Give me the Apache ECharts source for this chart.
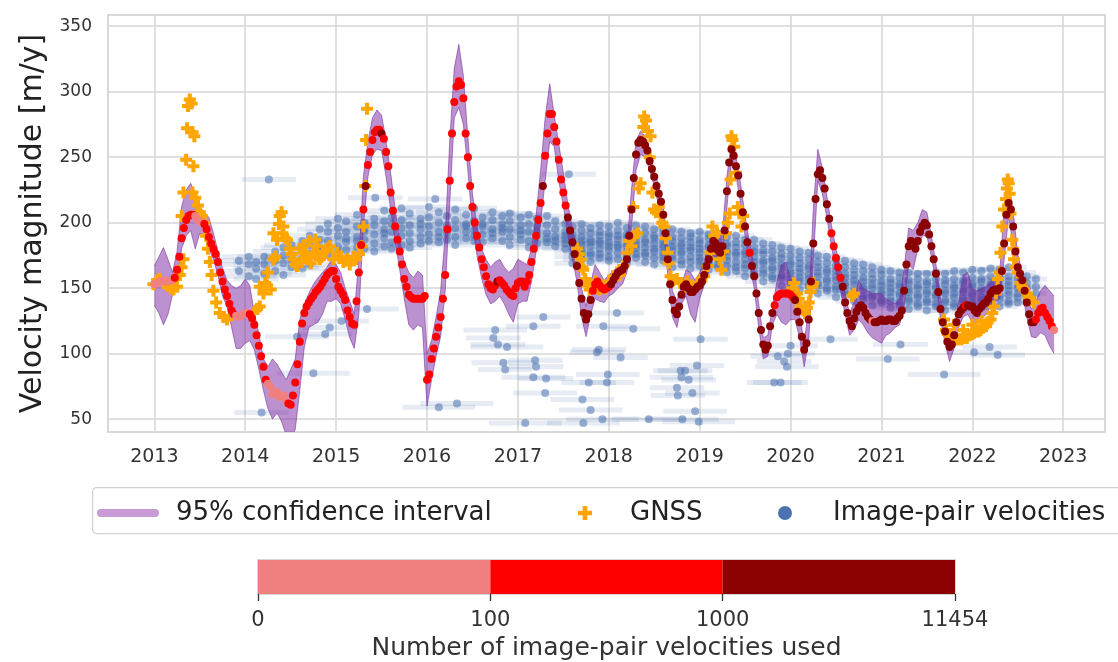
<!DOCTYPE html>
<html>
<head>
<meta charset="utf-8">
<title>Velocity magnitude</title>
<script src="https://cdn.jsdelivr.net/npm/echarts@6/dist/echarts.min.js"></script>
<style>
  html, body { margin: 0; padding: 0; background: #fff; }
  #chart { width: 1118px; height: 662px; }
</style>
</head>
<body>
<div id="chart"></div>
<script>
// tick labels
const yearTicks = [2013, 2014, 2015, 2016, 2017, 2018, 2019, 2020, 2021, 2022, 2023];
const velocityTicks = [50, 100, 150, 200, 250, 300, 350];
const countLabels = ['0', '100', '1000', '11454'];
const countColors = ['#F08080', '#FF0000', '#8B0000'];

// estimated velocity, one value every curveStep years from curveStart
const curveStart = 2013;
const curveStep = 0.025;
const curveValues = [
  153,154,155,155,155,155,155,156,156,158, 164,174,188,196,202,205,206,206,205,202, 201,200,199,195,189,184,180,176,170,162, 155,149,144,138,133,130,129,128,129,130,
  131,131,130,127,122,114,106,98,90,80, 77,75,69,70,71,67,68,68,64,62, 61,68,78,92,109,123,131,136,139,142, 144,147,149,151,154,157,160,162,163,163,
  157,151,148,145,141,133,128,123,122,140, 162,183,210,228,244,254,263,269,271,271, 268,264,254,243,223,209,197,187,178,168, 157,151,145,143,142,142,142,142,142,144,
  80,84,96,104,113,120,128,142,160,195, 232,268,292,304,308,305,295,268,250,228, 212,200,190,181,172,166,159,153,150,149, 152,155,156,154,152,149,147,145,144,150,
  154,155,155,151,155,160,170,180,190,202, 215,228,251,268,283,283,273,262,248,233, 223,213,204,194,185,176,167,154,142,131, 126,130,141,148,153,155,152,150,149,150,
  151,153,156,159,162,163,164,167,172,190, 210,234,252,261,263,262,259,255,247,241, 235,228,222,216,206,192,172,153,141,133, 130,136,145,151,153,150,147,147,149,151,
  152,155,160,167,172,180,186,184,179,177, 182,194,224,246,256,251,243,236,222,208, 197,185,177,167,159,146,131,118,107,103, 106,121,131,137,143,145,146,146,146,146,
  145,143,141,132,124,113,103,108,126,155, 184,218,237,240,234,226,214,203,192,182, 173,166,158,151,139,131,125,121,127,132, 135,137,135,131,128,126,125,124,124,125,
  126,125,125,126,126,125,125,127,129,133, 148,168,182,186,183,180,186,193,197,200, 198,191,182,172,161,147,134,124,117,109, 105,107,114,124,130,133,135,137,137,136,
  136,133,131,134,136,138,139,142,146,148, 149,148,150,163,184,206,215,210,197,178, 166,161,156,148,139,130,124,124,126,131, 134,135,131,128,125,121,118
];

// class of the number of image-pair velocities used (0: <100, 1: 100-1000, 2: >1000), from each start year
const classStart = [2013.0, 2013.225, 2013.45, 2013.55, 2013.9, 2014.05, 2014.25, 2014.475, 2015.325, 2015.35, 2015.5, 2015.525,
  2016.775, 2016.8, 2017.275, 2017.3, 2017.55, 2017.825, 2018.025, 2019.55, 2019.575, 2019.825, 2020.05, 2020.45, 2020.575,
  2020.9, 2020.925, 2021.925, 2021.95, 2022.7, 2022.9];
const classIndex = [0, 1, 0, 1, 0, 1, 0, 1, 2, 1, 2, 1, 2, 1, 2, 1, 2, 1, 2, 1, 2, 1, 2, 1, 2, 0, 2, 1, 2, 1, 0];

// 95% confidence interval, one value every bandStep years from bandStart
const bandStart = 2013;
const bandStep = 0.05;
const bandUpper = [
  167,174,181,172,162,178,212,225,230,222, 212,208,204,192,178,165,156,152,150,152,
  157,152,131,115,96,90,96,92,86,80, 88,96,126,138,146,153,158,162,166,172,
  168,162,150,140,130,172,235,262,280,286, 282,262,238,210,186,170,162,158,163,160,
  100,110,128,148,190,262,318,336,312,265, 222,198,180,172,166,170,172,166,162,165,
  172,170,168,180,205,240,280,306,282,260, 238,214,196,178,150,136,154,168,162,156,
  160,163,166,168,182,225,262,270,266,254, 240,228,212,182,148,140,152,164,162,156,
  162,170,182,192,190,192,235,262,250,230, 205,184,166,138,112,114,135,155,168,170,
  158,148,130,108,135,210,256,242,220,198, 180,165,146,130,140,156,150,148,146,146,
  146,142,140,138,142,165,196,194,200,210, 208,190,168,142,124,112,120,140,160,162,
  150,148,150,151,155,158,160,210,228,208, 176,162,145,134,140,148,152,148,144
];
const bandLower = [
  137,131,122,130,145,158,180,190,194,180, 192,190,180,172,160,144,136,120,104,104,
  108,110,103,88,72,58,50,55,48,38, 35,42,72,105,120,122,124,130,140,140,
  142,138,126,112,104,130,197,235,252,256, 255,235,210,185,164,142,122,118,122,120,
  60,80,98,113,148,215,280,288,275,240, 198,175,158,145,138,140,144,138,130,124,
  138,140,140,155,178,200,232,262,258,232, 213,190,172,155,128,113,130,142,140,139,
  144,146,150,153,162,196,240,252,250,240, 228,213,196,160,128,120,138,144,130,124,
  142,152,162,175,170,172,212,246,236,215, 190,168,150,120,96,98,122,130,124,122,
  126,126,112,90,110,170,232,222,204,182, 163,148,130,114,118,126,122,116,112,110,
  108,114,116,120,122,136,168,164,180,190, 190,174,155,126,108,94,104,120,128,130,
  124,122,126,130,136,140,142,172,205,182, 152,146,128,113,112,116,114,106,100
];

// GNSS velocities [year, m/y]
const gnss = [
  [2012.99,153],[2013.03,156],[2013.06,157],[2013.10,154],[2013.14,152],[2013.18,150],[2013.21,149],[2013.25,151],[2013.28,160],[2013.30,166],[2013.32,172],
  [2013.30,205],[2013.32,223],[2013.35,248],[2013.36,272],[2013.37,289],[2013.39,294],[2013.41,291],[2013.42,269],[2013.44,266],[2013.43,243],[2013.42,223],
  [2013.45,219],[2013.48,213],[2013.50,208],[2013.52,205],[2013.55,200],[2013.57,190],[2013.59,180],[2013.61,170],[2013.63,160],[2013.65,148],[2013.68,139],
  [2013.72,131],[2013.76,128],[2013.80,126],[2014.09,131],[2014.13,134],[2014.16,136],
  [2014.16,151],[2014.20,146],[2014.22,154],[2014.24,152],[2014.25,162],[2014.28,149],[2014.31,172],[2014.31,192],[2014.33,174],[2014.35,187],[2014.37,199],
  [2014.38,205],[2014.40,208],[2014.41,192],[2014.42,197],[2014.44,188],[2014.46,187],[2014.49,180],[2014.51,176],[2014.53,172],[2014.55,168],[2014.57,167],
  [2014.60,180],[2014.62,170],[2014.64,182],[2014.66,176],[2014.68,174],[2014.70,186],[2014.72,169],[2014.75,177],[2014.77,187],[2014.79,182],[2014.82,172],
  [2014.84,174],[2014.87,178],[2014.90,180],[2014.93,182],[2014.97,172],[2015.01,177],[2015.05,174],[2015.08,170],[2015.12,172],[2015.15,168],[2015.19,174],
  [2015.22,172],[2015.25,176],[2015.28,182],[2015.30,197],[2015.32,228],[2015.33,263],[2015.34,287],
  [2017.65,180],[2017.67,176],[2017.69,172],[2017.71,166],[2017.72,164],[2017.74,157],[2017.77,152],[2017.79,149],[2017.82,152],[2017.85,155],[2017.87,150],
  [2017.90,149],[2017.93,152],[2017.97,150],[2018.01,155],[2018.05,159],[2018.09,162],[2018.12,160],[2018.16,167],[2018.20,177],[2018.22,186],[2018.25,182],
  [2018.28,190],[2018.31,192],[2018.27,212],[2018.33,226],[2018.35,230],[2018.37,262],[2018.38,273],[2018.39,281],[2018.41,278],[2018.43,270],[2018.46,266],
  [2018.45,250],[2018.48,223],[2018.50,210],[2018.52,208],[2018.55,212],[2018.57,205],[2018.59,200],[2018.61,197],[2018.63,188],[2018.65,177],[2018.66,169],
  [2018.68,159],[2018.71,156],[2018.75,157],[2018.79,154],[2018.83,151],[2018.86,155],[2018.90,151],[2018.94,150],[2018.98,154],[2019.02,156],[2019.05,159],
  [2019.09,167],[2019.12,177],[2019.14,197],[2019.16,190],[2019.19,192],[2019.22,172],[2019.24,164],[2019.26,178],[2019.29,192],[2019.31,200],[2019.33,207],
  [2019.34,233],[2019.35,266],[2019.36,263],[2019.38,258],[2019.40,238],[2019.42,212],[2019.44,207],[2019.46,197],[2019.48,205],
  [2020.02,150],[2020.04,154],[2020.07,146],[2020.09,142],[2020.11,136],[2020.14,133],[2020.16,131],[2020.18,135],[2020.20,139],[2020.22,147],[2020.24,151],
  [2020.25,154],[2020.68,144],[2020.70,146],
  [2021.69,126],[2021.71,118],[2021.73,115],[2021.76,113],[2021.79,112],[2021.82,111],[2021.85,111],[2021.88,111],[2021.91,112],[2021.94,112],[2021.97,114],
  [2022.00,115],[2022.02,116],[2022.05,117],[2022.07,117],[2022.09,118],[2022.12,120],[2022.15,121],[2022.17,124],[2022.20,126],[2022.22,131],[2022.24,136],
  [2022.26,146],[2022.28,157],[2022.30,162],[2022.31,177],[2022.33,197],[2022.35,210],[2022.37,218],[2022.38,226],[2022.39,233],[2022.40,230],[2022.41,222],
  [2022.42,207],[2022.44,187],[2022.45,180],[2022.46,172],[2022.48,166],[2022.50,162],[2022.53,154],[2022.55,151],[2022.57,149],[2022.60,146],[2022.62,143],
  [2022.64,141],[2022.68,139],[2021.80,122],[2021.90,118],[2022.00,122],[2022.10,125]
];

// image-pair velocities: [mid year, half span in years, velocities...]
const pairColumns = [
  [2013.93, 0.3, 163, 171],
  [2014.04, 0.3, 159, 168, 174],
  [2014.12, 0.25, 165, 157, 170],
  [2014.21, 0.3, 168, 161, 174],
  [2014.33, 0.25, 163, 171, 178],
  [2014.42, 0.25, 169, 160, 175, 181],
  [2014.51, 0.3, 166, 174, 183, 171],
  [2014.63, 0.25, 172, 179, 165, 186],
  [2014.71, 0.25, 176, 168, 183, 190],
  [2014.82, 0.25, 173, 181, 187, 195, 178],
  [2014.91, 0.25, 180, 186, 175, 193, 199],
  [2015.02, 0.25, 182, 177, 190, 196, 203],
  [2015.11, 0.25, 185, 179, 193, 188, 201],
  [2015.23, 0.25, 181, 189, 197, 186, 206],
  [2015.31, 0.25, 187, 193, 180, 200, 195],
  [2015.42, 0.25, 184, 191, 198, 203, 178],
  [2015.53, 0.25, 188, 182, 195, 201, 209, 192],
  [2015.61, 0.25, 185, 193, 199, 180, 204],
  [2015.72, 0.25, 190, 183, 196, 202, 211],
  [2015.81, 0.25, 186, 192, 198, 181, 207],
  [2015.93, 0.25, 189, 195, 184, 203, 199],
  [2016.02, 0.25, 191, 186, 197, 204, 212],
  [2016.13, 0.25, 185, 193, 200, 189, 208],
  [2016.22, 0.25, 192, 187, 198, 205, 195],
  [2016.31, 0.25, 189, 196, 183, 202, 210],
  [2016.43, 0.25, 193, 188, 199, 206, 197],
  [2016.52, 0.25, 186, 194, 201, 190, 211],
  [2016.61, 0.25, 191, 197, 185, 204, 199],
  [2016.72, 0.25, 188, 195, 202, 192, 208],
  [2016.83, 0.25, 193, 186, 199, 205, 196],
  [2016.91, 0.25, 189, 195, 183, 201, 207],
  [2017.03, 0.25, 191, 187, 198, 204, 194],
  [2017.12, 0.25, 186, 193, 199, 181, 206],
  [2017.21, 0.25, 190, 184, 197, 203, 193],
  [2017.32, 0.25, 185, 192, 198, 188, 205],
  [2017.41, 0.25, 189, 182, 195, 201, 186],
  [2017.52, 0.25, 180, 187, 193, 184, 199, 190],
  [2017.6, 0.2, 169, 174, 178, 181, 184, 188, 191, 197],
  [2017.7, 0.2, 172, 176, 179, 183, 186, 189, 194, 199],
  [2017.8, 0.2, 170, 175, 177, 182, 185, 187, 192, 196],
  [2017.9, 0.2, 173, 176, 180, 184, 186, 190, 193, 198],
  [2018.0, 0.2, 171, 174, 179, 182, 185, 189, 192, 197],
  [2018.1, 0.2, 172, 177, 181, 183, 187, 190, 194, 200],
  [2018.2, 0.2, 169, 175, 178, 182, 184, 188, 191, 196],
  [2018.3, 0.2, 173, 176, 180, 183, 186, 190, 193, 198],
  [2018.4, 0.2, 170, 175, 177, 181, 185, 187, 192, 197],
  [2018.5, 0.2, 168, 173, 178, 180, 184, 188, 190, 195],
  [2018.6, 0.2, 171, 174, 177, 181, 183, 186, 191, 194],
  [2018.7, 0.2, 166, 172, 175, 179, 182, 186, 189, 195],
  [2018.8, 0.2, 168, 171, 176, 178, 182, 184, 188, 193],
  [2018.9, 0.2, 165, 170, 174, 179, 181, 185, 189, 192],
  [2019.0, 0.2, 167, 171, 173, 177, 180, 184, 187, 193],
  [2019.1, 0.2, 164, 169, 174, 176, 181, 183, 188, 191],
  [2019.2, 0.2, 166, 168, 172, 177, 179, 182, 186, 192],
  [2019.3, 0.2, 162, 167, 171, 174, 178, 182, 184, 189],
  [2019.4, 0.2, 163, 166, 170, 175, 177, 181, 185, 190],
  [2019.5, 0.2, 159, 165, 168, 172, 176, 178, 183, 187],
  [2019.6, 0.2, 160, 162, 167, 170, 174, 178, 181, 187],
  [2019.7, 0.2, 155, 161, 164, 169, 171, 176, 179, 184],
  [2019.8, 0.2, 157, 159, 164, 166, 171, 173, 178, 183],
  [2019.9, 0.2, 152, 158, 160, 165, 168, 173, 176, 181],
  [2020.0, 0.2, 154, 157, 161, 163, 168, 170, 175, 180],
  [2020.1, 0.2, 149, 155, 158, 162, 165, 169, 173, 178],
  [2020.2, 0.2, 151, 153, 157, 160, 165, 167, 172, 177],
  [2020.3, 0.2, 146, 152, 154, 159, 162, 166, 170, 175],
  [2020.4, 0.2, 148, 150, 155, 157, 162, 164, 169, 174],
  [2020.5, 0.2, 143, 149, 151, 156, 159, 163, 167, 172],
  [2020.6, 0.2, 145, 147, 152, 154, 158, 161, 166, 171],
  [2020.7, 0.2, 140, 146, 148, 153, 156, 160, 164, 169],
  [2020.8, 0.2, 142, 144, 149, 151, 155, 158, 163, 168],
  [2020.9, 0.2, 137, 143, 145, 150, 153, 157, 161, 166],
  [2021.0, 0.2, 139, 141, 146, 148, 152, 155, 160, 164],
  [2021.1, 0.2, 135, 140, 143, 147, 150, 154, 157, 163],
  [2021.2, 0.2, 137, 139, 144, 146, 151, 153, 158, 162],
  [2021.3, 0.2, 134, 140, 142, 147, 149, 154, 156, 162],
  [2021.4, 0.2, 136, 138, 143, 145, 150, 152, 157, 161],
  [2021.5, 0.2, 133, 139, 141, 146, 148, 153, 155, 161],
  [2021.6, 0.2, 136, 138, 143, 145, 150, 152, 157, 162],
  [2021.7, 0.2, 133, 139, 141, 146, 148, 153, 156, 161],
  [2021.8, 0.2, 136, 138, 143, 146, 150, 152, 157, 163],
  [2021.9, 0.2, 134, 140, 142, 147, 149, 154, 156, 162],
  [2022.0, 0.2, 137, 139, 144, 146, 151, 153, 158, 164],
  [2022.1, 0.2, 135, 141, 143, 148, 150, 155, 157, 163],
  [2022.2, 0.2, 138, 140, 145, 147, 152, 154, 159, 165],
  [2022.3, 0.2, 136, 142, 144, 149, 151, 156, 158, 164],
  [2022.4, 0.2, 138, 140, 145, 148, 152, 155, 159, 166],
  [2022.5, 0.2, 139, 143, 146, 150, 153, 157, 162],
  [2022.6, 0.15, 141, 145, 150, 154, 159],
  [2022.7, 0.12, 146, 151, 157]
];

// isolated image-pair velocities [mid year, half span in years, velocity]
const pairOutliers = [
  [2014.18, 0.3, 55], [2014.26, 0.3, 233], [2014.57, 0.35, 113], [2014.75, 0.4, 85], [2014.88, 0.3, 115], [2014.93, 0.3, 120],
  [2015.06, 0.3, 125], [2015.34, 0.35, 134], [2015.43, 0.3, 219], [2016.09, 0.3, 218], [2016.13, 0.4, 59], [2016.33, 0.4, 62],
  [2016.73, 0.3, 112], [2016.75, 0.35, 118], [2016.78, 0.3, 107], [2016.84, 0.35, 93], [2016.86, 0.3, 88], [2016.88, 0.4, 105],
  [2017.08, 0.4, 47], [2017.17, 0.3, 121], [2017.17, 0.35, 82], [2017.19, 0.3, 95], [2017.20, 0.3, 90], [2017.28, 0.3, 128],
  [2017.30, 0.35, 70], [2017.31, 0.3, 81], [2017.56, 0.3, 237], [2017.71, 0.35, 65], [2017.72, 0.4, 47], [2017.78, 0.3, 78],
  [2017.80, 0.35, 57], [2017.87, 0.3, 101], [2017.89, 0.3, 103], [2017.93, 0.4, 50], [2017.94, 0.3, 121], [2017.98, 0.3, 78],
  [2017.99, 0.35, 84], [2018.09, 0.3, 131], [2018.13, 0.3, 97], [2018.27, 0.3, 119], [2018.44, 0.4, 50], [2018.75, 0.3, 74],
  [2018.76, 0.3, 68], [2018.79, 0.3, 87], [2018.80, 0.35, 82], [2018.81, 0.4, 50], [2018.84, 0.3, 87], [2018.88, 0.3, 80],
  [2018.92, 0.3, 70], [2018.95, 0.35, 56], [2018.97, 0.3, 91], [2018.99, 0.4, 48], [2019.01, 0.3, 111], [2019.82, 0.3, 78],
  [2019.86, 0.3, 98], [2019.89, 0.3, 78], [2019.93, 0.3, 94], [2019.96, 0.35, 90], [2019.97, 0.3, 100], [2020.00, 0.3, 106],
  [2020.44, 0.3, 111], [2021.07, 0.35, 96], [2021.21, 0.3, 107], [2021.69, 0.4, 84], [2022.02, 0.3, 101], [2022.19, 0.3, 105],
  [2022.28, 0.3, 99]
];

// build series data
const classOf = t => {
  let c = classIndex[0];
  for (let k = 0; k < classStart.length; k++) {
    if (t >= classStart[k] - 1e-6) c = classIndex[k];
  }
  return c;
};
const curveData = curveValues.map((v, i) => {
  const t = +(curveStart + i * curveStep).toFixed(3);
  return [t, v, classOf(t)];
});
const bandData = bandUpper.map((u, i) => [+(bandStart + i * bandStep).toFixed(3), bandLower[i], u]);
const pairData = [];
pairColumns.forEach(col => {
  for (let k = 2; k < col.length; k++) pairData.push([col[0], col[k], col[1]]);
});
pairOutliers.forEach(p => pairData.push([p[0], p[2], p[1]]));
const colorbarData = countColors.map((c, i) => [i, i + 1, i]);

const bandEdge = 'rgba(120, 50, 160, 0.6)';
const bandFill = 'rgba(113, 22, 155, 0.47)';
const pairBlue = '76, 114, 176';
const plusPath = 'path://M4,0H8V4H12V8H8V12H4V8H0V4H4Z';
const barPath = 'path://M4,0H58A4,4,0,0,1,58,8H4A4,4,0,0,1,4,0Z';

const chart = echarts.init(document.getElementById('chart'), null, { renderer: 'canvas' });

const legendText = { fontSize: 26, color: '#222', fontFamily: 'DejaVu Sans' };

chart.setOption({
  animation: false,
  backgroundColor: '#fff',
  textStyle: { fontFamily: 'DejaVu Sans' },
  grid: [
    { left: 108, right: 13, top: 15, bottom: 230, show: true, borderColor: '#cccccc', borderWidth: 1.5 },
    { left: 258, width: 697, top: 560, height: 34, show: true, borderColor: '#c8c8c8', borderWidth: 1.5 }
  ],
  graphic: [{
    type: 'rect', left: 92, top: 487, z: -1,
    shape: { width: 1040, height: 46, r: 4 },
    style: { fill: '#fff', stroke: '#d0d0d0', lineWidth: 1.2 }
  }],
  legend: [
    {
      left: 92, top: 495, itemWidth: 62, itemHeight: 14, selectedMode: false,
      data: [{ name: '95% confidence interval', icon: barPath, itemStyle: { color: '#c99bd6' } }],
      textStyle: Object.assign({ padding: [0, 0, 0, 12] }, legendText)
    },
    {
      left: 573, top: 495, itemWidth: 62, itemHeight: 14, selectedMode: false,
      data: [{ name: 'GNSS', icon: plusPath, itemStyle: { color: '#FFA500' } }],
      textStyle: Object.assign({ padding: [0, 0, 0, 9] }, legendText)
    },
    {
      left: 773, top: 495, itemWidth: 62, itemHeight: 14, selectedMode: false,
      data: [{ name: 'Image-pair velocities', icon: 'circle', itemStyle: { color: 'rgb(' + pairBlue + ')' } }],
      textStyle: Object.assign({ padding: [0, 0, 0, 12] }, legendText)
    }
  ],
  xAxis: [
    {
      type: 'value', gridIndex: 0, min: 2012.49, max: 2023.46,
      axisLine: { show: false },
      axisTick: { show: false, customValues: yearTicks },
      axisLabel: { customValues: yearTicks, fontSize: 19, color: '#333', margin: 16, formatter: v => String(v) },
      splitLine: { show: true, lineStyle: { color: '#d6d6d6', width: 1.5 } }
    },
    {
      type: 'value', gridIndex: 1, min: 0, max: 3, interval: 1,
      axisLine: { show: false },
      axisTick: { show: true, length: 7, lineStyle: { color: '#333', width: 1.3 } },
      axisLabel: { fontSize: 21, color: '#333', margin: 16, formatter: v => countLabels[v] },
      splitLine: { show: false },
      name: 'Number of image-pair velocities used', nameLocation: 'middle', nameGap: 42,
      nameTextStyle: { fontSize: 25, color: '#333' }
    }
  ],
  yAxis: [
    {
      type: 'value', gridIndex: 0, min: 40.2, max: 358.5,
      axisLine: { show: false },
      axisTick: { show: false, customValues: velocityTicks },
      axisLabel: { customValues: velocityTicks, fontSize: 17, color: '#333', margin: 16, formatter: v => String(v) },
      splitLine: { show: true, lineStyle: { color: '#d6d6d6', width: 1.5 } },
      name: 'Velocity magnitude [m/y]', nameLocation: 'middle', nameGap: 60,
      nameTextStyle: { fontSize: 30, color: '#222' }
    },
    { type: 'value', gridIndex: 1, min: 0, max: 1, show: false }
  ],
  series: [
    {
      name: 'Image-pair velocities', type: 'custom', xAxisIndex: 0, yAxisIndex: 0, z: 1, clip: true,
      data: pairData,
      encode: { x: 0, y: 1 },
      renderItem: (params, api) => {
        const t = api.value(0), v = api.value(1), h = api.value(2);
        const a = api.coord([t - h, v]), b = api.coord([t + h, v]), c = api.coord([t, v]);
        return {
          type: 'group',
          children: [
            { type: 'line', shape: { x1: a[0], y1: a[1], x2: b[0], y2: b[1] },
              style: { stroke: 'rgba(' + pairBlue + ', 0.14)', lineWidth: 5 } },
            { type: 'circle', shape: { cx: c[0], cy: c[1], r: 4 },
              style: { fill: 'rgba(' + pairBlue + ', 0.55)' } }
          ]
        };
      }
    },
    {
      name: '95% confidence interval', type: 'custom', xAxisIndex: 0, yAxisIndex: 0, z: 2, clip: true,
      data: bandData, silent: true,
      encode: { x: 0, y: [1, 2] },
      itemStyle: { color: '#c99bd6' },
      renderItem: (params, api) => {
        if (params.dataIndexInside !== 0) return null;
        const n = params.dataInsideLength;
        const up = [], lo = [];
        for (let i = 0; i < n; i++) {
          const t = api.value(0, i);
          lo.push(api.coord([t, api.value(1, i)]));
          up.push(api.coord([t, api.value(2, i)]));
        }
        return {
          type: 'group',
          children: [
            { type: 'polygon', shape: { points: up.concat(lo.slice().reverse()) }, style: { fill: bandFill } },
            { type: 'polyline', shape: { points: up }, style: { stroke: bandEdge, lineWidth: 1, fill: null } },
            { type: 'polyline', shape: { points: lo }, style: { stroke: bandEdge, lineWidth: 1, fill: null } }
          ]
        };
      }
    },
    {
      name: 'GNSS', type: 'scatter', z: 3, data: gnss,
      symbol: plusPath, symbolSize: 12,
      itemStyle: { color: '#FFA500', opacity: 1 }
    },
    {
      name: 'velocity', type: 'scatter', z: 4, data: curveData,
      symbolSize: 8,
      itemStyle: { color: p => countColors[p.value[2]], opacity: 1 }
    },
    {
      name: 'colorbar', type: 'custom', xAxisIndex: 1, yAxisIndex: 1, z: 1,
      data: colorbarData, silent: true,
      renderItem: (params, api) => {
        const p0 = api.coord([api.value(0), 1]);
        const p1 = api.coord([api.value(1), 0]);
        return {
          type: 'rect',
          shape: { x: p0[0], y: p0[1], width: p1[0] - p0[0], height: p1[1] - p0[1] },
          style: { fill: countColors[api.value(2)] }
        };
      }
    }
  ]
});
</script>
</body>
</html>
